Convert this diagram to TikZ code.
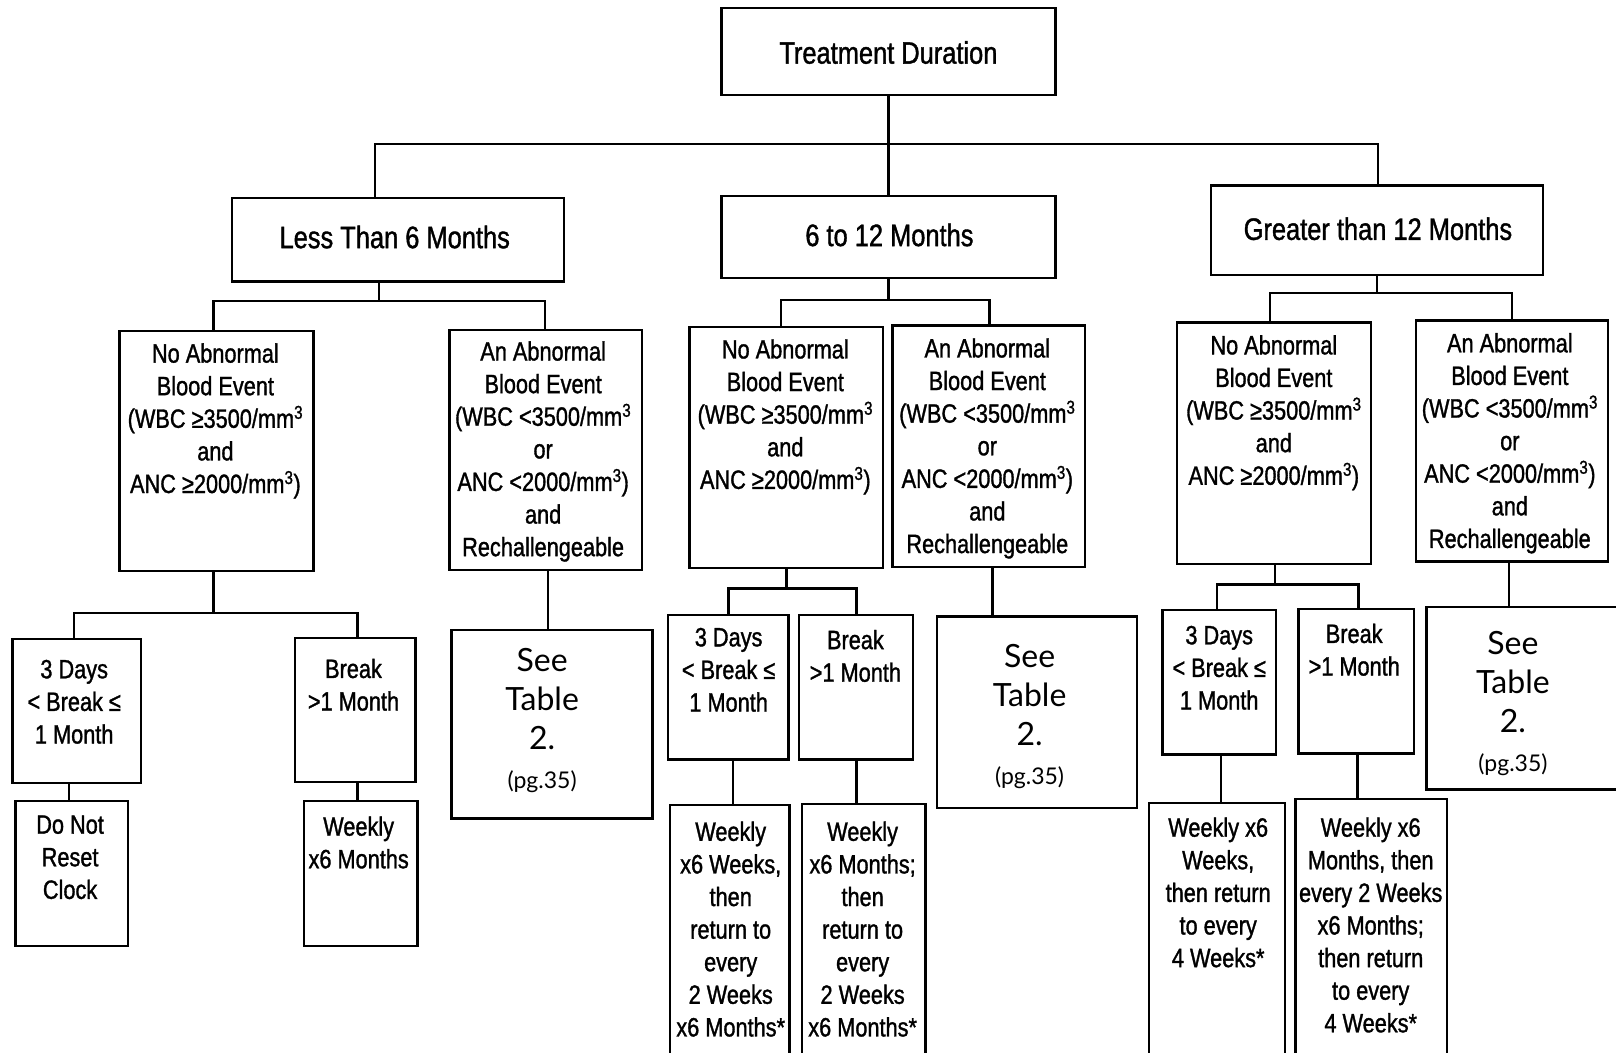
\documentclass[tikz,border=0pt]{standalone}
\usepackage{fontspec}
\setmainfont[FakeStretch=0.82,FakeBold=1.2]{Liberation Sans}
\newfontfamily\handfont{Lato}
\newcommand\pgsmall{\handfont\fontsize{23}{27}\selectfont}
\usetikzlibrary{fit}
\begin{document}
\begin{tikzpicture}[x=1.0306pt,y=-1.0306pt,
  box/.style={draw,line width=2.4pt,inner sep=0pt},
  ln/.style={line width=2.4pt},
  big/.style={inner sep=0pt,font=\fontsize{31}{35}\selectfont},
  txt/.style={align=center,inner sep=0pt,anchor=north,font=\fontsize{26.5}{32.6}\selectfont},
  hw/.style={align=center,inner sep=0pt,anchor=north,font=\handfont\fontsize{32}{39}\selectfont}]
\useasboundingbox (0,0) rectangle (1568,1021);
\clip (0,0) rectangle (1568,1021);

% level 1
\node[box,fit={(700,8)(1024,92)}] (top) {};
\node[big] (top-t) at (862,51) {Treatment Duration};
% level 2
\node[box,fit={(225,192)(547,273)}] (less) {};
\node[big] (less-t) at (383,230) {Less Than 6 Months};
\node[box,fit={(700,190)(1024,270)}] (mid) {};
\node[big] (mid-t) at (863,228) {6 to 12 Months};
\node[box,fit={(1175,180)(1497,267)}] (gt) {};
\node[big] (gt-t) at (1337,222) {Greater than 12 Months};

% level 3
\node[box,fit={(116,321)(304,554)}] (Lno) {};
\node[txt] (Lno-t) at (209,333) {No Abnormal\\Blood Event\\(WBC ≥3500/mm\textsuperscript{3}\\and\\ANC ≥2000/mm\textsuperscript{3})};
\node[box,fit={(436,320)(623,553)}] (Lab) {};
\node[txt] (Lab-t) at (527,331) {An Abnormal\\Blood Event\\(WBC <3500/mm\textsuperscript{3}\\or\\ANC <2000/mm\textsuperscript{3})\\and\\Rechallengeable};
\node[box,fit={(669,317)(857,551)}] (Mno) {};
\node[txt] (Mno-t) at (762,329) {No Abnormal\\Blood Event\\(WBC ≥3500/mm\textsuperscript{3}\\and\\ANC ≥2000/mm\textsuperscript{3})};
\node[box,fit={(866,316)(1053,550)}] (Mab) {};
\node[txt] (Mab-t) at (958,328) {An Abnormal\\Blood Event\\(WBC <3500/mm\textsuperscript{3}\\or\\ANC <2000/mm\textsuperscript{3})\\and\\Rechallengeable};
\node[box,fit={(1142,313)(1330,547)}] (Gno) {};
\node[txt] (Gno-t) at (1236,325) {No Abnormal\\Blood Event\\(WBC ≥3500/mm\textsuperscript{3}\\and\\ANC ≥2000/mm\textsuperscript{3})};
\node[box,fit={(1374,311)(1560,545)}] (Gab) {};
\node[txt] (Gab-t) at (1465,323) {An Abnormal\\Blood Event\\(WBC <3500/mm\textsuperscript{3}\\or\\ANC <2000/mm\textsuperscript{3})\\and\\Rechallengeable};

% level 4
\node[box,fit={(12,620)(137,760)}] (L3d) {};
\node[txt] (L3d-t) at (72,640) {3 Days\\< Break ≤\\1 Month};
\node[box,fit={(286,619)(403,759)}] (Lbr) {};
\node[txt] (Lbr-t) at (343,639) {Break\\>1 Month};
\node[box,fit={(438,611)(633,794)}] (Lsee) {};
\node[hw] (Lsee-t) at (526,629) {See\\Table\\2.\\{\pgsmall (pg.35)}};
\node[box,fit={(648,597)(765,737)}] (M3d) {};
\node[txt] (M3d-t) at (707,609) {3 Days\\< Break ≤\\1 Month};
\node[box,fit={(775,597)(886,737)}] (Mbr) {};
\node[txt] (Mbr-t) at (830,611) {Break\\>1 Month};
\node[box,fit={(909,598)(1103,784)}] (Msee) {};
\node[hw] (Msee-t) at (999,625) {See\\Table\\2.\\{\pgsmall (pg.35)}};
\node[box,fit={(1128,592)(1238,732)}] (G3d) {};
\node[txt] (G3d-t) at (1183,607) {3 Days\\< Break ≤\\1 Month};
\node[box,fit={(1260,591)(1372,731)}] (Gbr) {};
\node[txt] (Gbr-t) at (1314,605) {Break\\>1 Month};
\node[box,fit={(1384,589)(1580,766)}] (Gsee) {};
\node[hw] (Gsee-t) at (1468,612) {See\\Table\\2.\\{\pgsmall (pg.35)}};

% level 5
\node[box,fit={(15,777)(124,918)}] (Ldo) {};
\node[txt] (Ldo-t) at (68,791) {Do Not\\Reset\\Clock};
\node[box,fit={(295,777)(405,918)}] (Lwk) {};
\node[txt] (Lwk-t) at (348,792) {Weekly\\x6 Months};
\node[box,fit={(650,781)(766,1035)}] (Mw1) {};
\node[txt] (Mw1-t) at (709,797) {Weekly\\x6 Weeks,\\then\\return to\\every\\2 Weeks\\x6 Months*};
\node[box,fit={(778,780)(898,1035)}] (Mw2) {};
\node[txt] (Mw2-t) at (837,797) {Weekly\\x6 Months;\\then\\return to\\every\\2 Weeks\\x6 Months*};
\node[box,fit={(1115,779)(1247,1035)}] (Gw1) {};
\node[txt] (Gw1-t) at (1182,793) {Weekly x6\\Weeks,\\then return\\to every\\4 Weeks*};
\node[box,fit={(1257,775)(1404,1035)}] (Gw2) {};
\node[txt] (Gw2-t) at (1330,793) {Weekly x6\\Months, then\\every 2 Weeks\\x6 Months;\\then return\\to every\\4 Weeks*};

% connectors level 1 -> 2
\coordinate (j1l) at (364,140);
\coordinate (j1r) at (1337,140);
\draw[ln] (top.south) -- (mid.north);
\draw[ln] (less.north -| j1l) -- (j1l) -- (j1r) -- (gt.north -| j1r);

% level 2 -> 3
\coordinate (j2a) at (368,292);
\coordinate (j2al) at (207,292);
\coordinate (j2ar) at (529,292);
\draw[ln] (less.south -| j2a) -- (j2a);
\draw[ln] (Lno.north -| j2al) -- (j2al) -- (j2ar) -- (Lab.north -| j2ar);
\coordinate (j2b) at (862,291);
\coordinate (j2bl) at (758,291);
\coordinate (j2br) at (960,291);
\draw[ln] (mid.south) -- (j2b);
\draw[ln] (Mno.north -| j2bl) -- (j2bl) -- (j2br) -- (Mab.north -| j2br);
\coordinate (j2c) at (1336,284);
\coordinate (j2cl) at (1232,284);
\coordinate (j2cr) at (1467,284);
\draw[ln] (gt.south -| j2c) -- (j2c);
\draw[ln] (Gno.north -| j2cl) -- (j2cl) -- (j2cr) -- (Gab.north -| j2cr);

% level 3 -> 4
\coordinate (j3a) at (207,595);
\coordinate (j3al) at (72,595);
\coordinate (j3ar) at (347,595);
\draw[ln] (Lno.south -| j3a) -- (j3a);
\draw[ln] (L3d.north -| j3al) -- (j3al) -- (j3ar) -- (Lbr.north -| j3ar);
\coordinate (j3b) at (532,0);
\draw[ln] (Lab.south -| j3b) -- (Lsee.north -| j3b);
\coordinate (j3c) at (763,571);
\coordinate (j3cl) at (707,571);
\coordinate (j3cr) at (831,571);
\draw[ln] (Mno.south -| j3c) -- (j3c);
\draw[ln] (M3d.north -| j3cl) -- (j3cl) -- (j3cr) -- (Mbr.north -| j3cr);
\coordinate (j3d) at (963,0);
\draw[ln] (Mab.south -| j3d) -- (Msee.north -| j3d);
\coordinate (j3e) at (1237,567);
\coordinate (j3el) at (1181,567);
\coordinate (j3er) at (1318,567);
\draw[ln] (Gno.south -| j3e) -- (j3e);
\draw[ln] (G3d.north -| j3el) -- (j3el) -- (j3er) -- (Gbr.north -| j3er);
\coordinate (j3f) at (1464,0);
\draw[ln] (Gab.south -| j3f) -- (Gsee.north -| j3f);

% level 4 -> 5
\coordinate (k1) at (67,0);
\coordinate (k2) at (347,0);
\coordinate (k3) at (711,0);
\coordinate (k4) at (831,0);
\coordinate (k5) at (1185,0);
\coordinate (k6) at (1317,0);
\draw[ln] (L3d.south -| k1) -- (Ldo.north -| k1);
\draw[ln] (Lbr.south -| k2) -- (Lwk.north -| k2);
\draw[ln] (M3d.south -| k3) -- (Mw1.north -| k3);
\draw[ln] (Mbr.south -| k4) -- (Mw2.north -| k4);
\draw[ln] (G3d.south -| k5) -- (Gw1.north -| k5);
\draw[ln] (Gbr.south -| k6) -- (Gw2.north -| k6);
\end{tikzpicture}
\end{document}
